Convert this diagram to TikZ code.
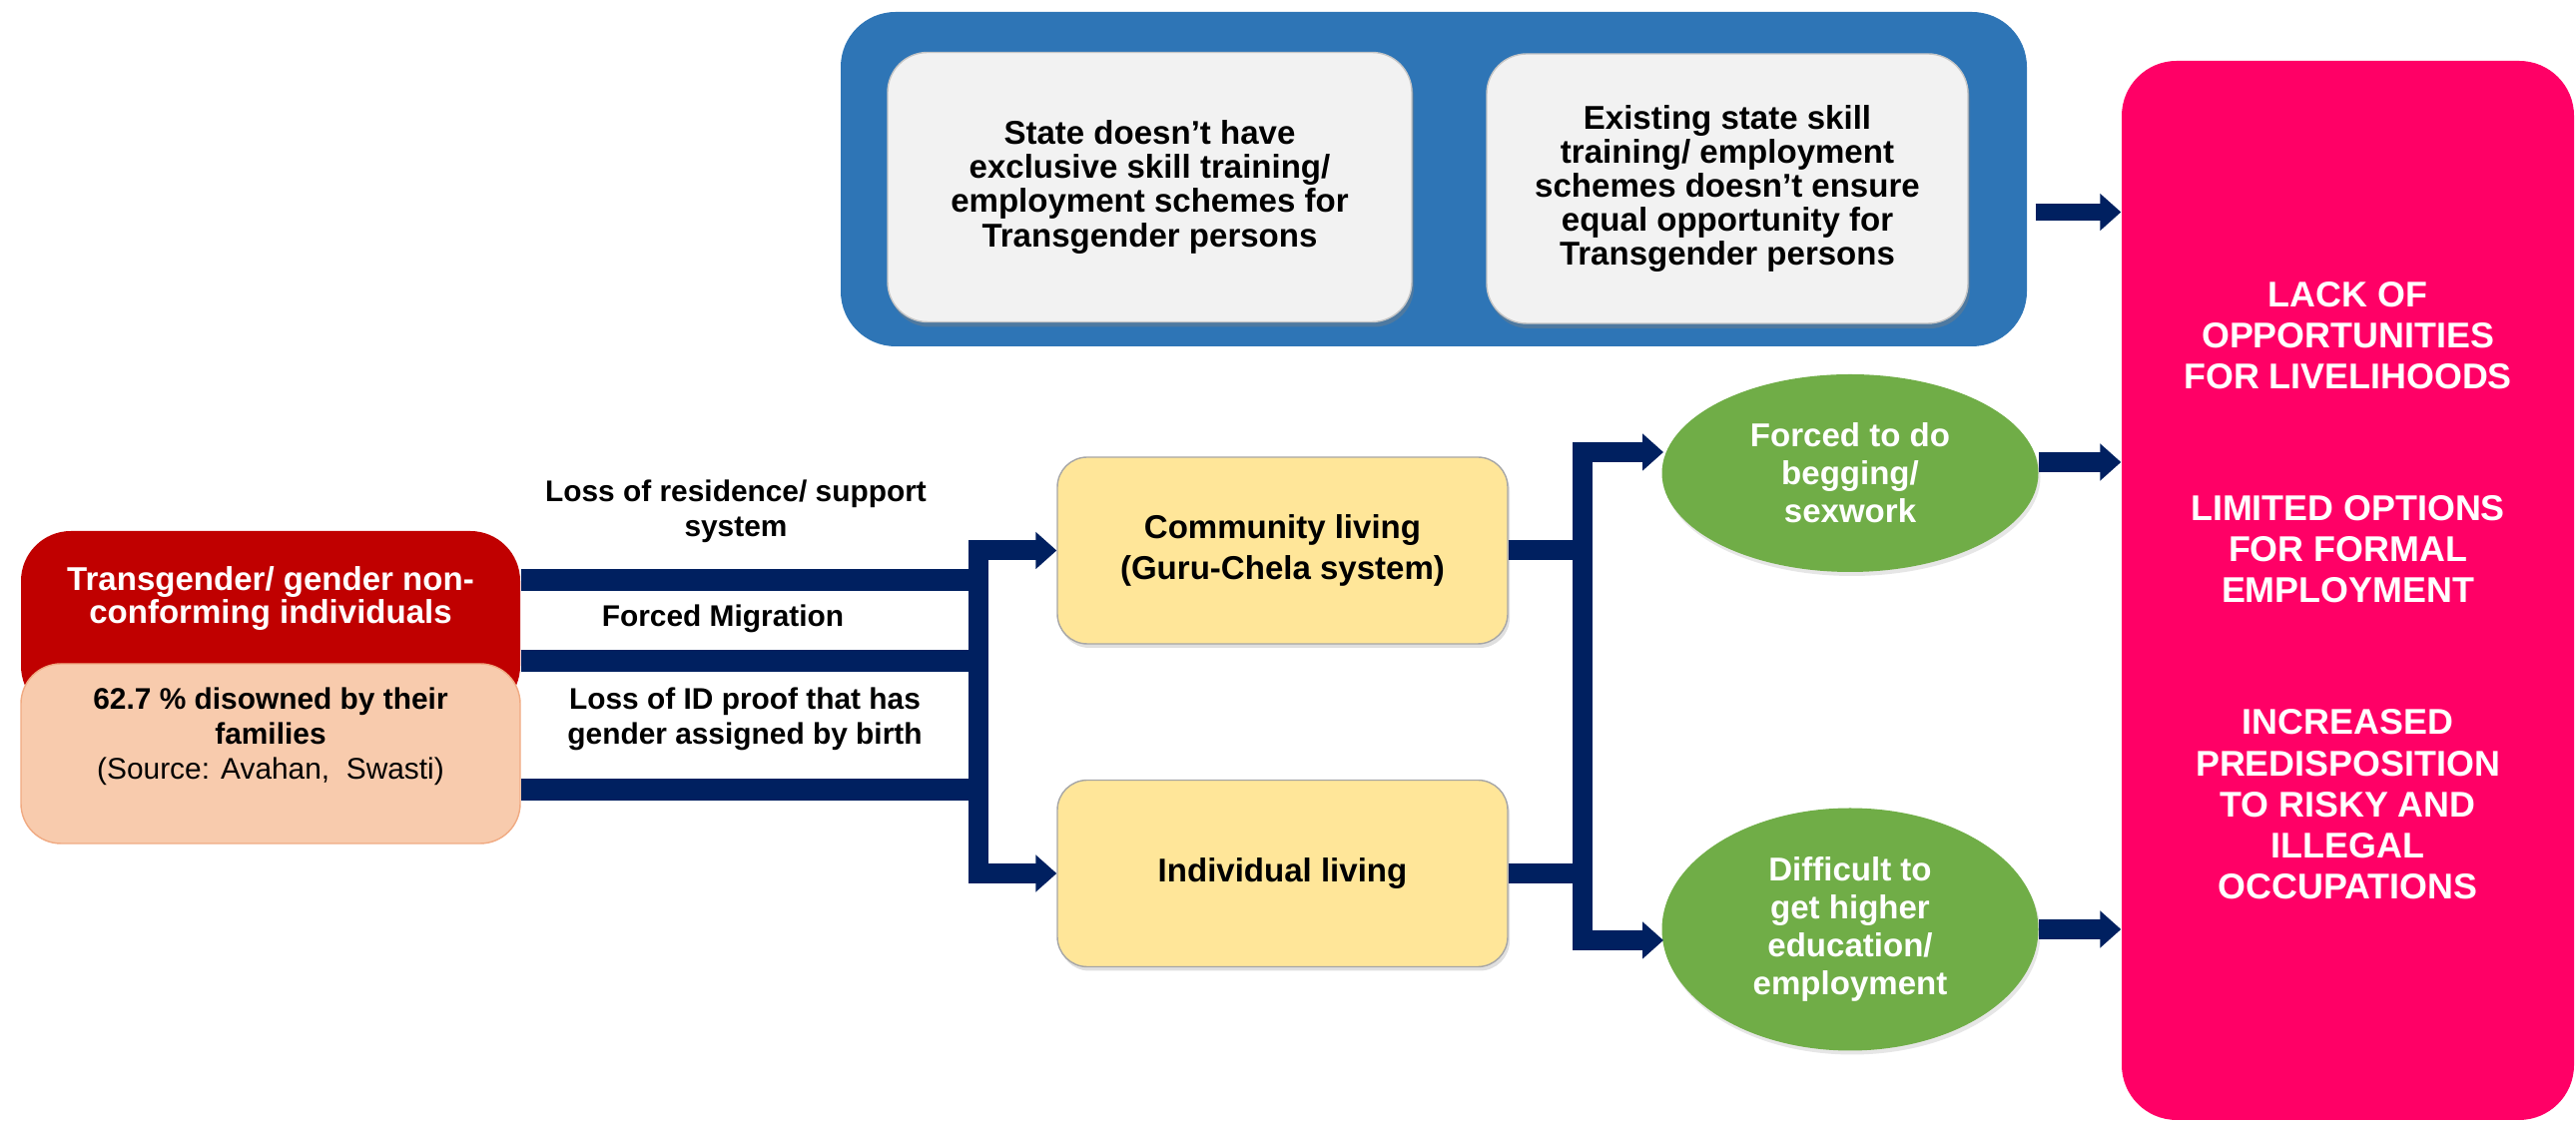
\documentclass[tikz,border=0pt]{standalone}
\usepackage{fontspec}
\setmainfont{Liberation Sans}
\usepackage{tikz}
\usetikzlibrary{arrows.meta,positioning,shapes.geometric,shadows}

\definecolor{frameblue}{RGB}{46,117,182}
\definecolor{tipgray}{RGB}{242,242,242}
\definecolor{tgred}{RGB}{192,0,0}
\definecolor{peach}{RGB}{248,203,173}
\definecolor{peachline}{RGB}{240,170,130}
\definecolor{gold}{RGB}{255,230,153}
\definecolor{leaf}{RGB}{112,173,71}
\definecolor{hotpink}{RGB}{255,0,102}
\definecolor{navy}{RGB}{0,32,96}

\begin{document}
\begin{tikzpicture}[
    auto,
    node distance=2.5cm,
    >={Triangle[width=0.36cm,length=0.21cm]},
    font=\bfseries,
    schemeframe/.style={
		rectangle,
		rounded corners=0.55cm,
		fill=frameblue,
		minimum width=11.88cm,
		minimum height=3.35cm
	},
	scheme/.style={
		rectangle,
		rounded corners=0.4cm,
		draw=gray!45,
		fill=tipgray,
		text centered,
		align=center,
		minimum height=2.7cm,
		font=\fontsize{9.4}{9.7}\selectfont\bfseries,
		drop shadow={opacity=0.4,shadow xshift=0.02cm,shadow yshift=-0.05cm}
	},
	whobox/.style={
		rectangle,
		rounded corners=0.5cm,
		fill=tgred,
		minimum width=5cm,
		minimum height=1.85cm
	},
	whoname/.style={
		text=white,
		align=center,
		font=\fontsize{9.4}{9.4}\selectfont\bfseries
	},
	whonote/.style={
		align=center,
		font=\fontsize{8.5}{10}\selectfont\bfseries
	},
	cause/.style={
		align=center,
		inner sep=0pt,
		font=\fontsize{8.5}{10}\selectfont\bfseries
	},
	living/.style={
		rectangle,
		rounded corners=0.3cm,
		draw=gray!70,
		fill=gold,
		align=center,
		minimum width=4.51cm,
		minimum height=1.87cm,
		font=\fontsize{9.4}{11.7}\selectfont\bfseries,
		drop shadow={opacity=0.25,shadow xshift=0.02cm,shadow yshift=-0.04cm}
	},
	outcome/.style={
		ellipse,
		fill=leaf,
		text=white,
		align=center,
		inner sep=0pt,
		minimum width=3.77cm,
		font=\fontsize{9.4}{10.8}\selectfont\bfseries,
		drop shadow={opacity=0.2,shadow xshift=0.02cm,shadow yshift=-0.04cm}
	},
	bar/.style={
		draw=navy,
		line width=0.2cm
	}
  ]

\useasboundingbox (0,0) rectangle (25.8,11.26);

% // The schemes
\node [schemeframe] (schemes) at (14.36,9.465) {};
\node [scheme, minimum width=5.25cm] (noscheme) at (11.515,9.385)
 {State doesn't have\\exclusive skill training/\\employment schemes for\\Transgender persons};
\node [scheme, minimum width=4.82cm, right of=noscheme, xshift=3.285cm, yshift=-0.015cm] (unequal)
 {Existing state skill\\training/ employment\\schemes doesn't ensure\\equal opportunity for\\Transgender persons};

% // The individuals
\node [whobox] (who) at (2.71,5.015) {};
\node [whoname] (whotitle) at (2.71,5.265) {Transgender/ gender non-\\conforming individuals};
\node [rectangle, rounded corners=0.4cm, draw=peachline, fill=peach,
 minimum width=5cm, minimum height=1.8cm,
 below of=who, yshift=1.195cm] (peach) {};
\node [whonote] (disowned) at ([yshift=0.17cm]peach.center)
 {62.7 \% disowned by their\\families\\{\mdseries (Source: Avahan,\ \ Swasti)}};

% causes
\node [cause] (residence) at (7.37,6.14) {Loss of residence/ support\\system};
\node [cause] (migration) at (7.24,5.06) {Forced Migration};
\node [cause] (idproof) at (7.46,4.06) {Loss of ID proof that has\\gender assigned by birth};

% // Living
\node [living] (community) at (12.845,5.745) {Community living\\(Guru-Chela system)};
\node [living, below of=community, yshift=-0.735cm] (individual) {Individual living};

% // Outcomes
\node [outcome, minimum height=1.98cm] (begging) at (18.53,6.52) {Forced to do\\begging/\\sexwork};
\node [outcome, minimum height=2.43cm, below of=begging, yshift=-2.07cm] (education)
 {Difficult to\\get higher\\education/\\employment};

% // Result
\node [rectangle, rounded corners=0.55cm, fill=hotpink, text=white, align=center,
 minimum width=4.53cm, minimum height=10.61cm,
 font=\fontsize{10.2}{11.7}\selectfont\bfseries] (result) at (23.515,5.345)
 {LACK OF\\OPPORTUNITIES\\FOR LIVELIHOODS\\[0.91cm]
  LIMITED OPTIONS\\FOR FORMAL\\EMPLOYMENT\\[0.91cm]
  INCREASED\\PREDISPOSITION\\TO RISKY AND\\ILLEGAL\\OCCUPATIONS};

% junctions
\coordinate (j1) at (9.80,5.45);
\coordinate (j2) at (9.80,4.64);
\coordinate (j3) at (9.80,3.35);
\coordinate (merge) at (15.85,4.2);
\coordinate (tobegging) at (16.66,6.73);
\coordinate (toeducation) at (16.66,1.84);
\coordinate (fromschemes) at ([yshift=-0.33cm]schemes.east);
\coordinate (frombegging) at ([yshift=0.11cm]begging.east);

 \draw [bar, line width=0.22cm] (who.east |- j1) -- (j1);
 \draw [bar, line width=0.22cm] (who.east |- j2) -- (j2);
 \draw [bar, line width=0.22cm] (who.east |- j3) -- (j3);
 \draw [bar, ->] (j2) |- (community);
 \draw [bar, ->] (j2) |- (individual);

 \draw [bar] (community) -- (community -| merge);
 \draw [bar] (individual) -- (individual -| merge);
 \draw [bar, ->] (merge) |- (tobegging);
 \draw [bar, ->] (merge) |- (toeducation);
% \draw [bar, ->] (merge) |- (begging);

 \draw [bar, ->, line width=0.17cm, shorten <=0.08cm] (fromschemes) -- (fromschemes -| result.west);
 \draw [bar, ->] (frombegging) -- (frombegging -| result.west);
 \draw [bar, ->] (education) -- (education -| result.west);

\end{tikzpicture}
\end{document}
